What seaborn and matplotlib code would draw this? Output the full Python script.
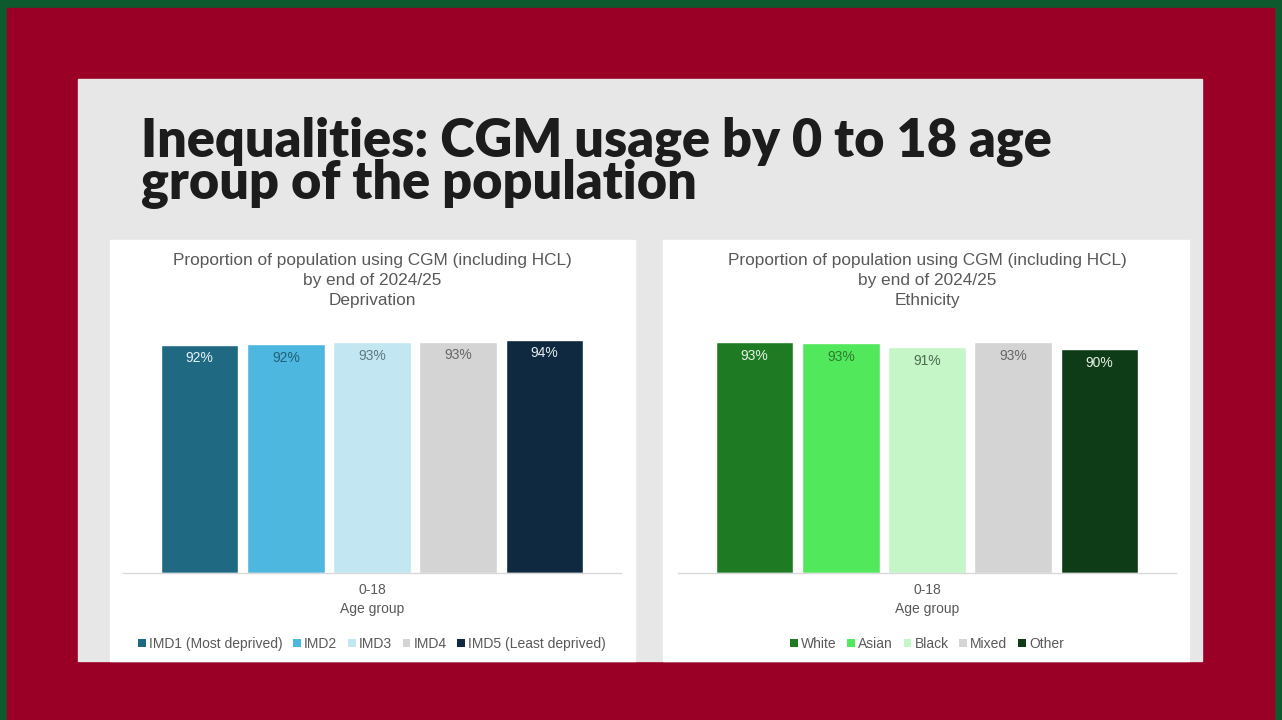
import matplotlib
matplotlib.use("Agg")
import matplotlib.pyplot as plt
import seaborn as sns
import pandas as pd
from matplotlib.patches import Rectangle

# data
age_group = ["0-18"]
imd_groups = ["IMD1 (Most deprived)", "IMD2", "IMD3", "IMD4", "IMD5 (Least deprived)"]
imd_values = [92.1, 92.3, 93.2, 93.3, 94.1]
imd_labels = ["92%", "92%", "93%", "93%", "94%"]
eth_groups = ["White", "Asian", "Black", "Mixed", "Other"]
eth_values = [93.1, 92.8, 91.2, 93.1, 90.4]
eth_labels = ["93%", "93%", "91%", "93%", "90%"]

imd_colors = ["#1F6A82", "#4DB7DF", "#C2E7F3", "#D4D4D4", "#0F2A40"]
imd_text = ["#E8F2F6", "#23607A", "#5E7880", "#666666", "#E6ECF0"]
eth_colors = ["#1F7A24", "#52E85C", "#C4F6C8", "#D4D4D4", "#0E3C16"]
eth_text = ["#E6F2E6", "#2E7A33", "#4E6A50", "#666666", "#E8F0E8"]

sns.set_theme(style="white")
plt.rcParams["font.family"] = ["Liberation Sans", "DejaVu Sans"]

W, H = 1282, 720
fig = plt.figure(figsize=(W / 100, H / 100), dpi=100)
fig.patch.set_facecolor("#0C5A2E")


def box(x0, y0, x1, y1, color):
    fig.patches.append(Rectangle((x0 / W, 1 - y1 / H), (x1 - x0) / W, (y1 - y0) / H,
                                 transform=fig.transFigure, color=color, zorder=0))


box(7, 8, 1274, 720, "#9A0026")
box(78, 79, 1202, 661, "#E7E7E7")
box(110, 240, 635, 661, "#FFFFFF")
box(663, 240, 1189, 661, "#FFFFFF")

# slide title, two tightly packed lines
fig.text(141 / W, 1 - 117 / H, "Inequalities: CGM usage by 0 to 18 age\ngroup of the population",
         family="Lato", fontweight="heavy", fontsize=37.5, color="#1C1C1C",
         va="top", ha="left", linespacing=0.8)


def draw_chart(x0, x1, groups, values, labels, colors, text_cols, subtitle):
    ax = fig.add_axes([x0 / W, 1 - 573 / H, (x1 - x0) / W, 248 / H])
    ax.set_zorder(3)
    ax.set_facecolor("none")
    df = pd.DataFrame({"age": age_group * len(groups), "group": groups, "value": values})
    sns.barplot(data=df, x="age", y="value", hue="group", hue_order=groups,
                palette=colors, width=0.865, gap=0.1, saturation=1,
                legend=True, ax=ax)
    ax.set_ylim(0, 100)
    ax.set_yticks([])
    ax.set_ylabel("")
    ax.set_xlabel("Age group", fontsize=10, color="#595959", labelpad=4)
    ax.tick_params(axis="x", labelsize=10, labelcolor="#595959", length=0, pad=7)
    for s in ["top", "right", "left"]:
        ax.spines[s].set_visible(False)
    ax.spines["bottom"].set_color("#D9D9D9")
    ax.spines["bottom"].set_linewidth(1)
    for cont, lab, tc in zip(ax.containers, labels, text_cols):
        ax.bar_label(cont, labels=[lab], label_type="edge", padding=-15,
                     fontsize=10, color=tc)
    handles, names = ax.get_legend_handles_labels()
    for h in handles:
        h.set_edgecolor("none")
    ax.legend(handles, names, loc="center", bbox_to_anchor=(0.5, -0.285),
              ncol=5, frameon=False, fontsize=10, labelcolor="#595959",
              handlelength=0.55, handleheight=0.55, handletextpad=0.25,
              columnspacing=0.75, borderaxespad=0)
    cx = (x0 + x1) / 2 / W
    fig.text(cx, 1 - 253 / H, "Proportion of population using CGM (including HCL)\nby end of 2024/25\n" + subtitle,
             ha="center", va="top", fontsize=12.4, color="#595959", linespacing=1.4)
    return ax


draw_chart(123, 621, imd_groups, imd_values, imd_labels, imd_colors, imd_text, "Deprivation")
draw_chart(678, 1176, eth_groups, eth_values, eth_labels, eth_colors, eth_text, "Ethnicity")

fig.savefig("out.png", dpi=100, facecolor=fig.get_facecolor())
